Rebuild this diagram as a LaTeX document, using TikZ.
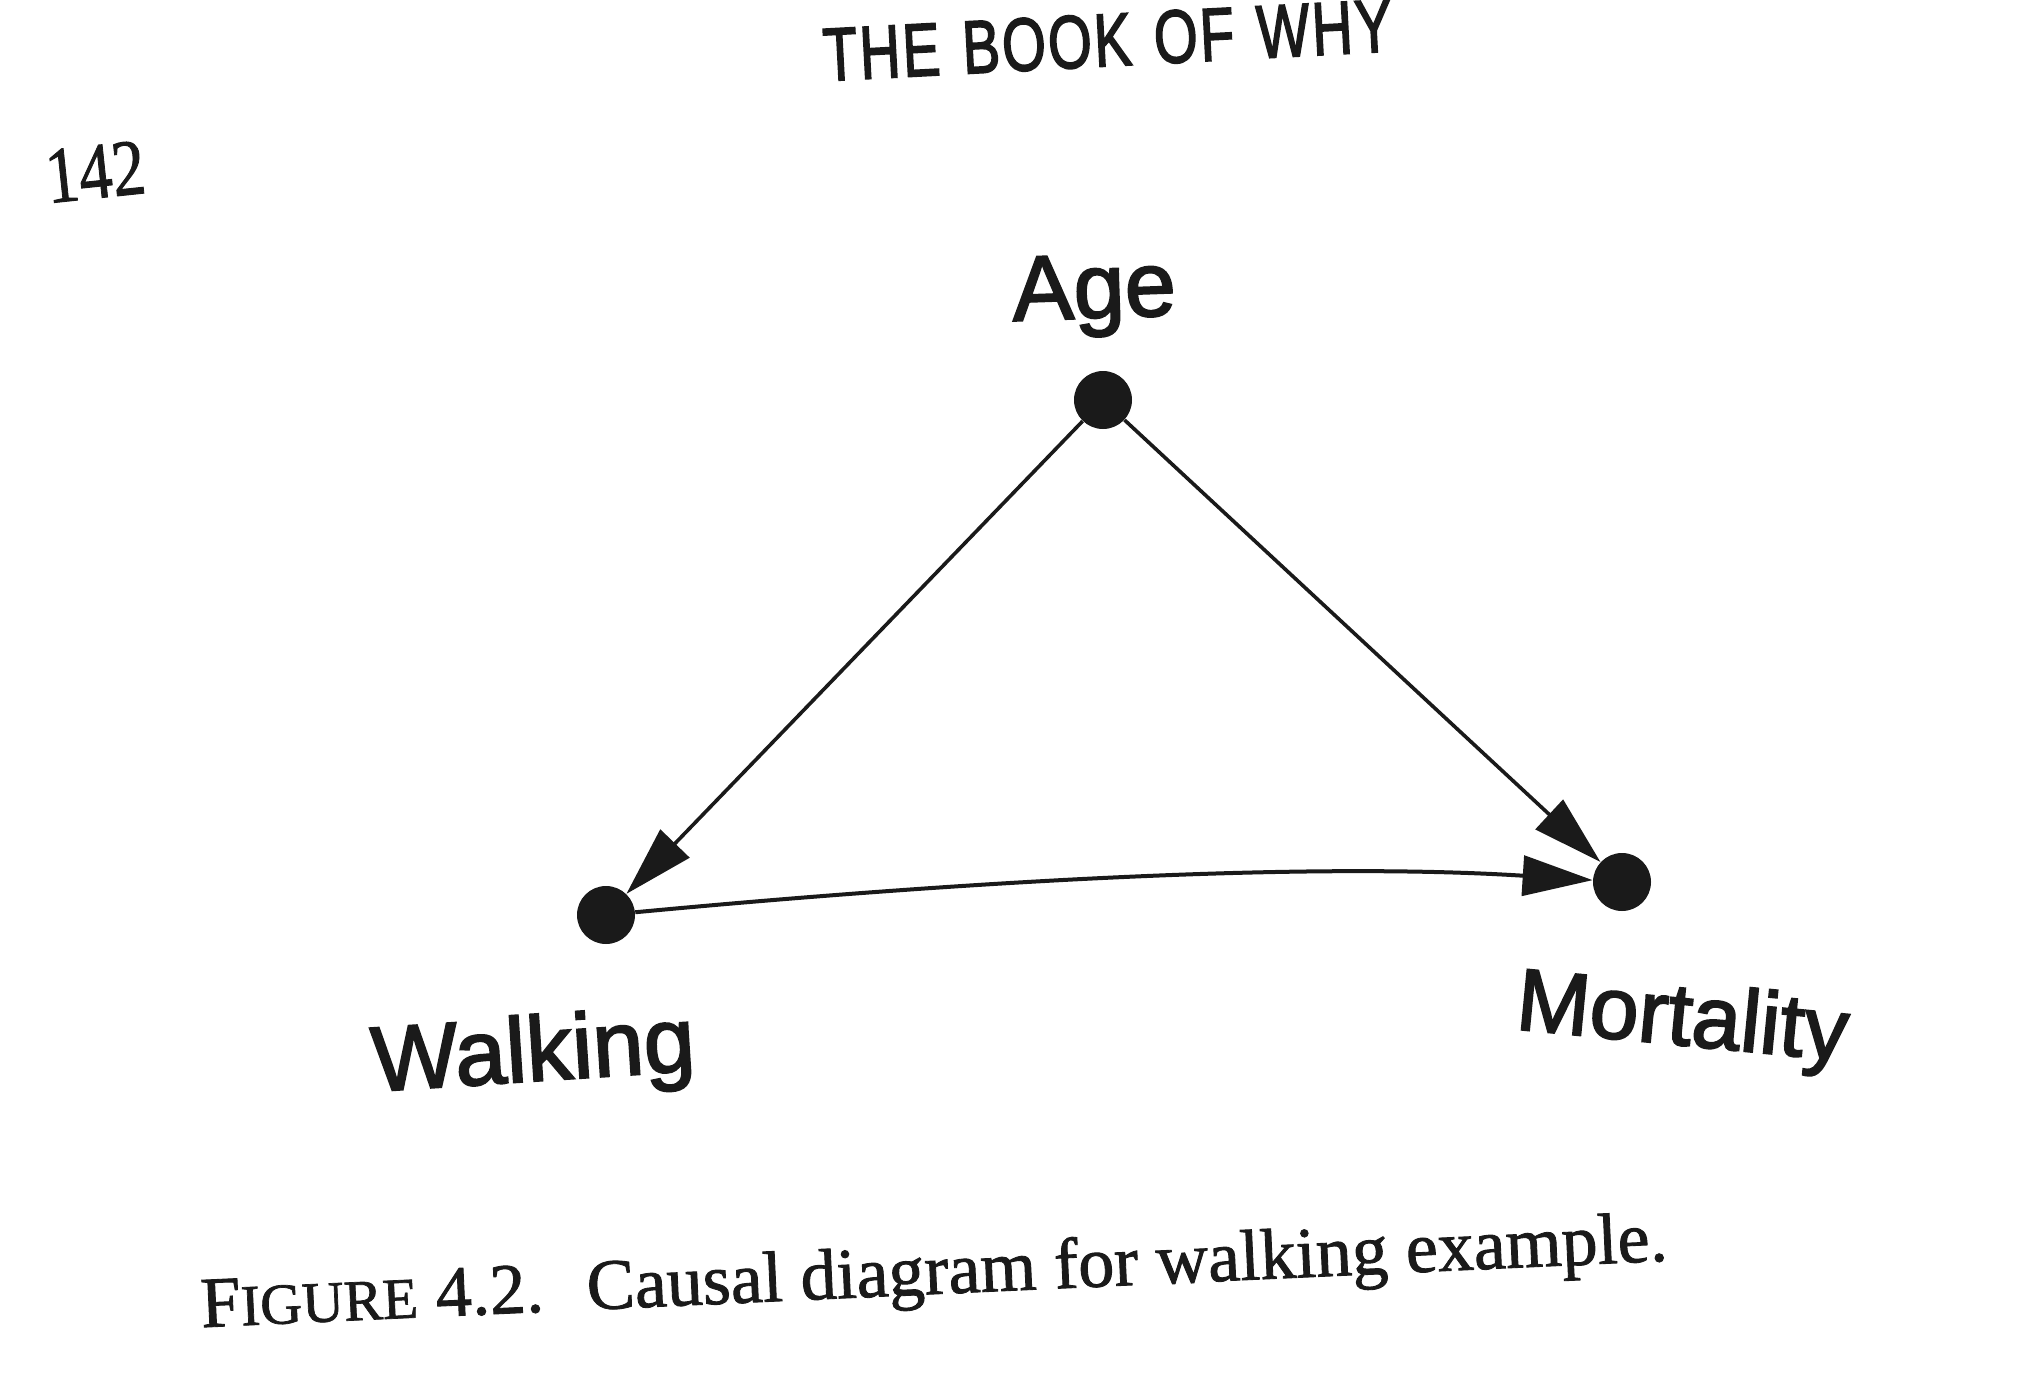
\documentclass[tikz,border=0pt]{standalone}
\usepackage{fontspec}
\usepackage{graphicx}
\newfontface\labelfont{Liberation Sans}[RawFeature={embolden=2.2}]
\newfontface\headfont{Liberation Sans}[RawFeature={embolden=2.5}]
\newfontface\capfont{Liberation Serif}[RawFeature={embolden=1.2}]
\usetikzlibrary{arrows.meta}
\definecolor{ink}{RGB}{26,26,26}
\begin{document}
\begin{tikzpicture}[x=0.5pt,y=-0.5pt,
  dot/.style={circle,fill=ink,inner sep=0pt,minimum size=29pt},
  lab/.style={font=\labelfont\fontsize{46}{50}\selectfont,text=ink,inner sep=0pt,anchor=base},
  edge/.style={draw=ink,line width=2pt,-{Triangle[length=35pt,width=20pt]}},
  pagetext/.style={text=ink,inner sep=0pt,anchor=base},
]
\fill[white] (0,0) rectangle (2026,1382);
\useasboundingbox (0,0) rectangle (2026,1382);

% header and page number
\node[pagetext,font=\headfont\fontsize{37.5}{40}\selectfont,rotate=3] (hdr) at (1109,66) {\scalebox{0.75}[1]{T\kern1.5pt H\kern1.5pt E\hspace{0.4em}B\kern1.5pt O\kern1.5pt O\kern1.5pt K\hspace{0.4em}O\kern1.5pt F\hspace{0.4em}W\kern1.5pt H\kern1.5pt Y}};
\node[pagetext,font=\capfont\fontsize{40}{44}\selectfont,rotate=6] (pg) at (98,198) {\scalebox{0.83}[1]{142}};

% nodes
\node[dot] (age) at (1103,400) {};
\node[dot] (walk) at (606,915) {};
\node[dot] (mort) at (1622,882) {};

% labels
\node[lab,rotate=2] (agel) at (1095,318) {Age};
\node[lab,rotate=3.7] (walkl) at (535,1081) {Walking};
\node[lab,rotate=-5.5,font=\labelfont\fontsize{44}{48}\selectfont] (mortl) at (1680,1045) {Mortality};

% edges
\draw[edge,line width=1.8pt] (age) -- (walk);
\draw[edge,line width=1.8pt] (age) -- (mort);
\draw[edge] (walk) .. controls (935,884) and (1292,861) .. (mort);

% caption
\node[pagetext,font=\capfont\fontsize{36}{40}\selectfont,rotate=2.6] (cap) at (935,1294) {F{\fontsize{29}{32}\selectfont IGURE} 4.2.\hspace{0.6em}Causal diagram for walking example.};
\end{tikzpicture}
\end{document}
